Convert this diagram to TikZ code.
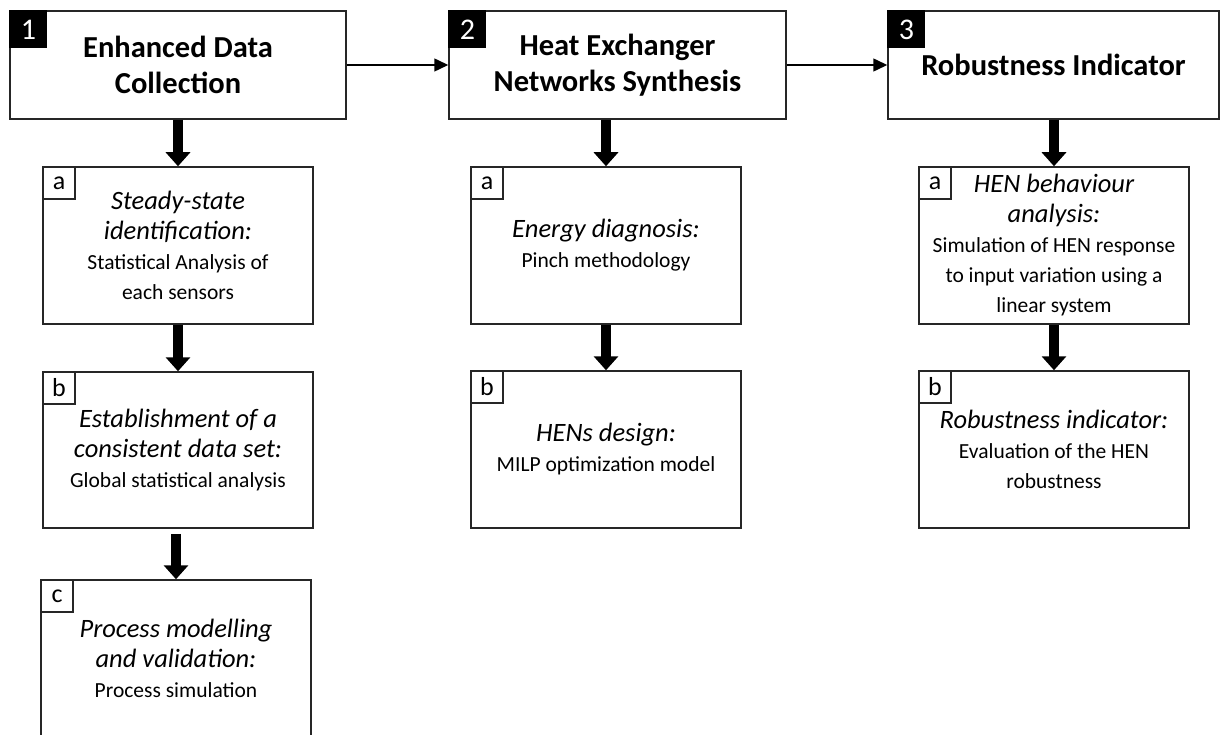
\documentclass[tikz,border=0pt]{standalone}
\usepackage{fontspec}
\setmainfont{Carlito}
\usetikzlibrary{arrows.meta}
\newcommand{\hdf}{\itshape\fontsize{26.5}{30}\selectfont}
\begin{document}
\begin{tikzpicture}[x=1pt,y=-1pt,
  box/.style={draw=black!85,line width=1.5pt,fill=white,inner sep=0pt,align=center},
  topbox/.style={box,font=\bfseries\fontsize{30.5}{36}\selectfont},
  subbox/.style={box,minimum width=270pt,font=\fontsize{21.5}{30}\selectfont},
  numlbl/.style={fill=black,text=white,minimum size=38pt,inner sep=0pt,anchor=north west,font=\fontsize{30}{30}\selectfont},
  letlbl/.style={draw=black!85,line width=1.5pt,fill=white,minimum size=32pt,inner sep=0pt,anchor=north west,font=\fontsize{26}{26}\selectfont},
  thin/.style={line width=1.5pt,-{Triangle[length=14pt,width=13pt]}},
  thick/.style={line width=10pt,-{Triangle[length=14pt,width=24pt]}}]
\useasboundingbox (0,0) rectangle (1221,735);
% top boxes
\node[topbox,minimum width=336pt,minimum height=108pt] (t1) at (178,65) {Enhanced Data\\Collection};
\node[topbox,minimum width=337pt,minimum height=108pt] (t2) at (617.5,65) {Heat Exchanger\\Networks Synthesis};
\node[topbox,minimum width=331pt,minimum height=108pt] (t3) at (1053.5,65) {Robustness Indicator};
\node[numlbl] (n1) at (t1.north west) {1};
\node[numlbl] (n2) at (t2.north west) {2};
\node[numlbl] (n3) at (t3.north west) {3};
% sub boxes
\node[subbox,minimum height=157pt] (s1a) at (178,245.5) {{\hdf Steady-state}\\{\hdf identification:}\\Statistical Analysis of\\each sensors};
\node[subbox,minimum height=156pt] (s1b) at (178,450) {{\hdf Establishment of a}\\{\hdf consistent data set:}\\Global statistical analysis};
\node[subbox,minimum height=157pt] (s1c) at (176,658.5) {{\hdf Process modelling}\\{\hdf and validation:}\\Process simulation};
\node[subbox,minimum height=157pt] (s2a) at (606,245.5) {{\hdf Energy diagnosis:}\\Pinch methodology};
\node[subbox,minimum height=157pt] (s2b) at (606,449.5) {{\hdf HENs design:}\\MILP optimization model};
\node[subbox,minimum height=157pt] (s3a) at (1054,245.5) {{\hdf HEN behaviour}\\{\hdf analysis:}\\Simulation of HEN response\\to input variation using a\\linear system};
\node[subbox,minimum height=157pt] (s3b) at (1054,449.5) {{\hdf Robustness indicator:}\\Evaluation of the HEN\\robustness};
\node[letlbl] (l1a) at (s1a.north west) {a};
\node[letlbl] (l1b) at (s1b.north west) {b};
\node[letlbl] (l1c) at (s1c.north west) {c};
\node[letlbl] (l2a) at (s2a.north west) {a};
\node[letlbl] (l2b) at (s2b.north west) {b};
\node[letlbl] (l3a) at (s3a.north west) {a};
\node[letlbl] (l3b) at (s3b.north west) {b};
% connectors
\draw[thin] (t1.east) -- (t2.west);
\draw[thin] (t2.east) -- (t3.west);
\draw[thick] (t1.south -| s1a.north) -- (s1a.north);
\draw[thick] (s1a.south) -- (s1b.north);
\draw[thick,shorten <=5pt] (s1b.south -| s1c.north) -- (s1c.north);
\draw[thick] (t2.south -| s2a.north) -- (s2a.north);
\draw[thick] (s2a.south) -- (s2b.north);
\draw[thick] (t3.south -| s3a.north) -- (s3a.north);
\draw[thick] (s3a.south) -- (s3b.north);
\end{tikzpicture}
\end{document}
